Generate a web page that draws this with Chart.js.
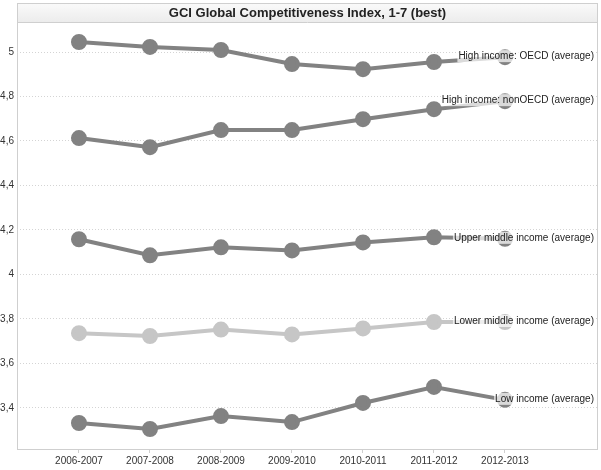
<!DOCTYPE html>
<html>
<head>
<meta charset="utf-8">
<script src="https://cdn.jsdelivr.net/npm/chart.js@4"></script>
<style>
  body { margin: 0; background: #fff; }
  #wrap { width: 601px; height: 470px; }
</style>
</head>
<body>
<div id="wrap"><canvas id="chart" width="601" height="470"></canvas></div>
<script>
const categories = ["2006-2007", "2007-2008", "2008-2009", "2009-2010", "2010-2011", "2011-2012", "2012-2013"]
const yTicks = [3.4, 3.6, 3.8, 4, 4.2, 4.4, 4.6, 4.8, 5]

const highOECD = [5.045, 5.023, 5.009, 4.946, 4.923, 4.955, 4.977]
const highNonOECD = [4.613, 4.572, 4.649, 4.649, 4.698, 4.743, 4.779]
const upperMiddle = [4.158, 4.086, 4.122, 4.108, 4.144, 4.167, 4.160]
const lowerMiddle = [3.736, 3.723, 3.752, 3.730, 3.757, 3.786, 3.786]
const lowIncome = [3.332, 3.305, 3.363, 3.336, 3.422, 3.494, 3.436]

const seriesNames = ["High income: OECD (average)", "High income: nonOECD (average)", "Upper middle income (average)", "Lower middle income (average)", "Low income (average)"]

const toPoints = arr => arr.map((v, i) => ({x: i, y: v}))

function makeSet(label, values, color) {
    return {
        label: label,
        data: toPoints(values),
        borderColor: color,
        backgroundColor: color,
        pointBackgroundColor: color,
        pointBorderColor: color,
        borderWidth: 4,
        pointRadius: 6,
        pointHoverRadius: 6,
        tension: 0
    }
}

const frame = {
    id: "frame",
    beforeDraw(chart) {
        const ctx = chart.ctx
        const a = chart.chartArea
        ctx.save()
        const g = ctx.createLinearGradient(0, 3, 0, 22)
        g.addColorStop(0, "#fafafa")
        g.addColorStop(1, "#ececec")
        ctx.fillStyle = g
        ctx.fillRect(a.left, 3, a.right - a.left, a.top - 3)
        ctx.strokeStyle = "#cfcfcf"
        ctx.lineWidth = 1
        ctx.strokeRect(a.left + 0.5, 3.5, a.right - a.left - 1, a.bottom - 3)
        ctx.beginPath()
        ctx.moveTo(a.left, a.top + 0.5)
        ctx.lineTo(a.right, a.top + 0.5)
        ctx.stroke()
        ctx.fillStyle = "#222"
        ctx.font = "bold 13px 'Liberation Sans', Arial, sans-serif"
        ctx.textAlign = "center"
        ctx.textBaseline = "middle"
        ctx.fillText("GCI Global Competitiveness Index, 1-7 (best)", (a.left + a.right) / 2, 13)
        ctx.restore()
    }
}

const endLabels = {
    id: "endLabels",
    afterDatasetsDraw(chart) {
        const ctx = chart.ctx
        const y = chart.scales.y
        const right = chart.chartArea.right - 4
        ctx.save()
        ctx.font = "10px 'Liberation Sans', Arial, sans-serif"
        ctx.textAlign = "right"
        ctx.textBaseline = "middle"
        chart.data.datasets.forEach(ds => {
            const last = ds.data[ds.data.length - 1]
            const py = y.getPixelForValue(last.y) - 1
            const w = ctx.measureText(ds.label).width
            ctx.fillStyle = "rgba(255,255,255,0.7)"
            ctx.fillRect(right - w - 1, py - 6, w + 2, 12)
            ctx.fillStyle = "#222"
            ctx.fillText(ds.label, right, py)
        })
        ctx.restore()
    }
}

const chart = new Chart(document.getElementById("chart"), {
    type: "line",
    data: {
        datasets: [
            makeSet(seriesNames[0], highOECD, "#828282"),
            makeSet(seriesNames[1], highNonOECD, "#828282"),
            makeSet(seriesNames[2], upperMiddle, "#828282"),
            makeSet(seriesNames[3], lowerMiddle, "#c6c6c6"),
            makeSet(seriesNames[4], lowIncome, "#828282")
        ]
    },
    options: {
        responsive: false,
        animation: false,
        layout: { autoPadding: false, padding: { top: 22, right: 3, left: 0, bottom: 0 } },
        plugins: { legend: { display: false }, tooltip: { enabled: false } },
        scales: {
            x: {
                type: "linear",
                min: -0.873,
                max: 7.31,
                afterBuildTicks: s => { s.ticks = categories.map((c, i) => ({value: i})) },
                afterFit: s => { s.height = 21; s.paddingLeft = 0; s.paddingRight = 0 },
                ticks: {
                    callback: v => categories[v],
                    color: "#333",
                    font: { size: 10, family: "'Liberation Sans', Arial, sans-serif" },
                    padding: 2,
                    maxRotation: 0,
                    autoSkip: false
                },
                grid: { drawOnChartArea: false, tickLength: 4, color: "#cfcfcf" },
                border: { display: false }
            },
            y: {
                min: 3.215,
                max: 5.135,
                afterBuildTicks: s => { s.ticks = yTicks.map(v => ({value: v})) },
                afterFit: s => { s.width = 17; s.paddingTop = 0; s.paddingBottom = 0 },
                ticks: {
                    callback: v => String(v).replace(".", ","),
                    color: "#333",
                    font: { size: 10, family: "'Liberation Sans', Arial, sans-serif" },
                    padding: 3
                },
                grid: { drawTicks: false, color: "#d4d4d4" },
                border: { display: false, dash: [1, 2] }
            }
        }
    },
    plugins: [frame, endLabels]
})
</script>
</body>
</html>
